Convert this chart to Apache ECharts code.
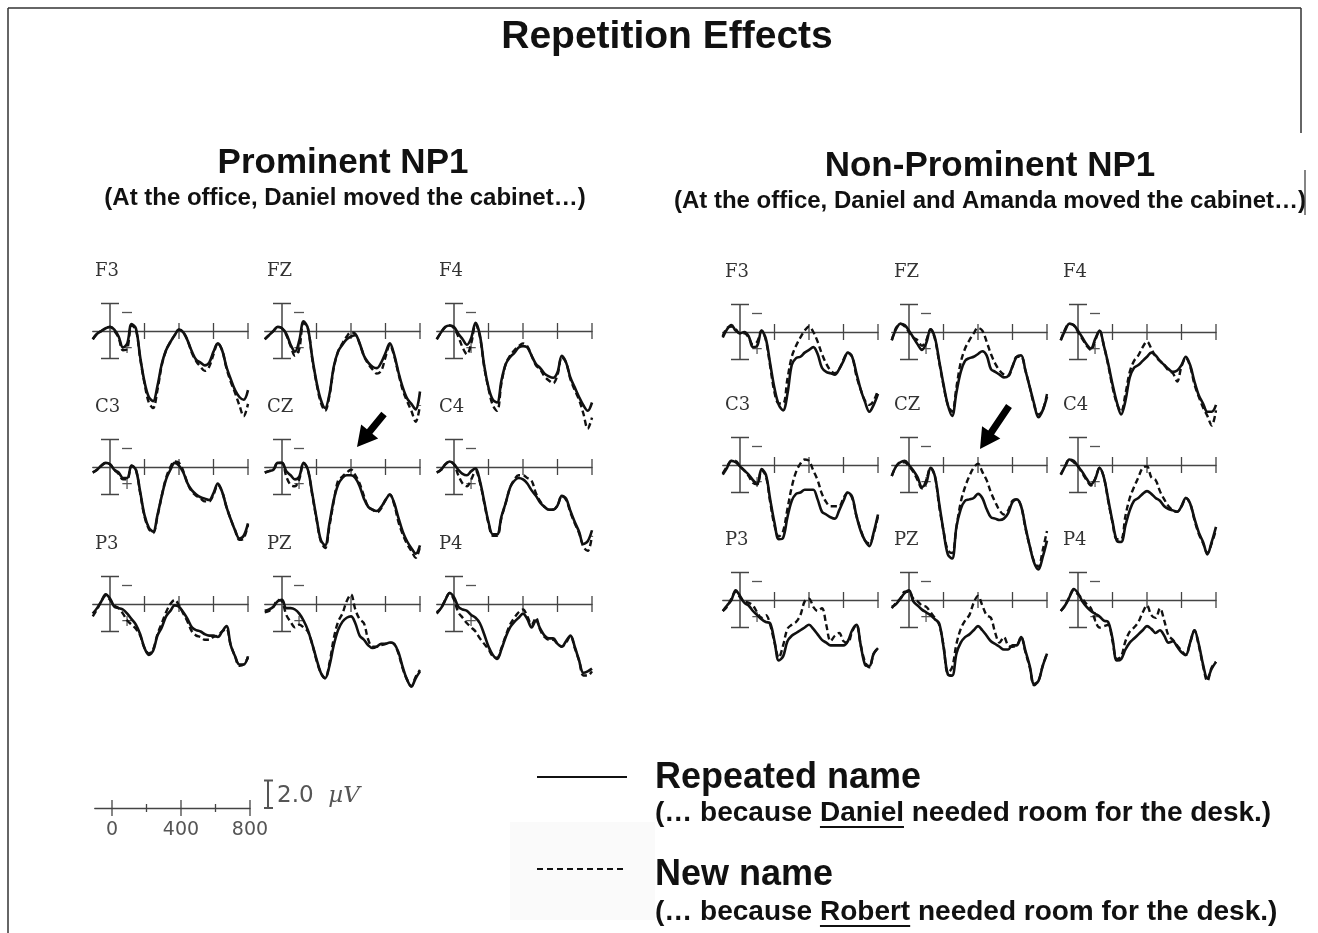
<!DOCTYPE html>
<html>
<head>
<meta charset="utf-8">
<script src="https://cdn.jsdelivr.net/npm/echarts@6/dist/echarts.min.js"></script>
<style>
html,body{margin:0;padding:0;background:#fff;}
#chart{width:1318px;height:933px;}
</style>
</head>
<body>
<div id="chart"></div>
<script>
// ---------- DATA ----------
const times = [-100,-75,-50,-25,0,25,50,75,100,125,150,175,200,225,250,275,300,325,350,375,400,425,450,475,500,525,550,575,600,625,650,675,700,725,750,775,800];
const electrodeRows = [['F3','FZ','F4'],['C3','CZ','C4'],['P3','PZ','P4']];
const timeTicks = [200,400,600,800];
const calBar = [-2, 2];             // µV, negative plotted up
const scaleTicks = [0,200,400,600,800];
const scaleLabels = [0,400,800];
const scaleBarLabel = '2.0';

// Prominent NP1 (µV)
const prom_F3_rep = [0.6,0.2,0,-0.2,-0.3,-0.1,0.4,1.2,0.9,-0.5,-0.2,1.9,3.7,4.8,5.1,4.0,2.4,1.4,0.8,0.3,-0.1,0.1,0.7,1.5,2.1,2.3,2.5,2.3,1.5,0.9,1.4,2.6,3.5,4.3,4.8,5.0,4.3];
const prom_F3_new = [0.6,0.2,0,-0.2,-0.3,0,0.5,1.4,1.3,-0.4,-0.1,2.0,3.8,5.2,5.6,4.3,2.5,1.4,0.8,0.3,-0.1,0.1,0.7,1.6,2.2,2.6,2.9,2.6,1.7,0.9,1.4,2.7,3.7,4.5,5.4,6.2,5.3];
const prom_FZ_rep = [0.6,0.3,0,-0.3,-0.2,0.2,1.0,1.5,0.7,-0.7,-0.2,1.9,3.7,5.0,5.6,4.6,2.6,1.5,1.0,0.6,0.4,0.3,0.9,1.8,2.3,2.6,2.7,2.3,1.6,0.9,1.7,3.0,4.1,4.9,5.3,5.7,4.4];
const prom_FZ_new = [0.6,0.3,0,-0.3,-0.2,0.3,1.1,1.8,1.3,-0.6,-0.2,2.0,3.8,5.2,5.8,4.7,2.7,1.5,0.9,0.4,0.1,0.2,0.9,1.8,2.4,2.8,3.1,2.9,1.9,1.0,1.8,3.1,4.3,5.1,5.8,6.6,5.4];
const prom_F4_rep = [0.6,0.1,-0.3,-0.4,-0.3,0.2,0.6,1.0,0.5,-0.6,0.3,2.5,4.1,5.0,5.2,3.6,2.4,1.9,1.6,1.2,1.1,1.2,1.8,2.4,2.7,3.1,3.3,3.4,3.0,1.8,2.3,3.4,4.1,4.8,5.4,5.8,5.2];
const prom_F4_new = [0.6,0.1,-0.3,-0.4,-0.2,0.4,1.2,1.7,0.9,-0.5,0.4,2.6,4.2,5.4,5.8,3.8,2.4,1.8,1.4,1.1,0.9,1.1,1.8,2.5,2.8,3.3,3.6,3.8,3.2,1.9,2.3,3.5,4.3,5.0,6.0,7.1,6.3];
const prom_C3_rep = [0.4,0.2,-0.1,-0.3,-0.2,0.2,0.4,0.8,0.8,-0.1,0.2,1.8,3.5,4.4,4.7,3.5,2.1,0.9,0.2,-0.3,-0.1,0.4,1.2,1.7,2.0,2.2,2.3,2.4,1.9,1.2,1.8,2.9,3.8,4.6,5.2,5.0,4.1];
const prom_C3_new = [0.4,0.2,-0.1,-0.3,-0.2,0.2,0.5,0.9,0.9,-0.1,0.2,1.9,3.6,4.5,4.8,3.6,2.1,0.8,0.0,-0.4,-0.3,0.3,1.2,1.8,2.1,2.3,2.5,2.5,2.0,1.3,1.8,2.9,3.8,4.6,5.3,5.2,4.2];
const prom_CZ_rep = [0.4,0.3,0.2,-0.3,-0.3,0.3,0.6,0.9,0.7,-0.3,0.2,1.9,3.7,5.3,5.7,4.1,2.4,1.3,0.8,0.6,0.6,0.8,1.4,2.3,2.9,3.1,3.2,2.9,2.4,2.0,2.6,3.7,4.7,5.4,5.9,6.3,5.7];
const prom_CZ_new = [0.4,0.3,0.2,-0.3,-0.3,0.7,1.3,1.4,0.9,-0.3,0.2,2.0,3.8,5.4,5.9,4.3,2.5,1.0,0.7,0.4,0.2,0.6,1.2,2.1,2.9,3.1,3.3,3.0,2.4,2.0,2.7,4.0,4.9,5.6,6.1,6.6,5.8];
const prom_C4_rep = [0.4,0.2,-0.2,-0.4,-0.2,0.2,0.5,0.6,0.3,0.1,1.0,2.5,4.0,4.9,4.9,3.6,2.6,1.5,1.0,0.8,0.9,1.2,1.7,2.1,2.6,2.9,3.1,3.1,2.8,2.1,2.3,3.2,4.0,4.7,5.6,5.4,4.6];
const prom_C4_new = [0.4,0.2,-0.2,-0.4,-0.2,0.6,1.2,1.4,0.9,0.3,1.1,2.6,4.1,5.0,5.0,3.7,2.6,1.5,0.9,0.6,0.6,0.8,1.0,1.9,2.5,2.9,3.1,3.1,2.8,2.1,2.4,3.3,4.1,4.8,5.8,6.1,5.0];
const prom_P3_rep = [0.7,0.3,-0.2,-0.7,-0.4,0.2,0.3,0.4,0.7,1.1,1.5,2.2,3.2,3.7,3.4,2.3,1.7,0.9,0.5,0.1,0.2,0.6,1.1,1.7,1.9,2.0,2.2,2.3,2.3,2.4,2.0,1.6,3.0,3.8,4.4,4.4,3.8];
const prom_P3_new = [0.9,0.4,-0.2,-0.6,-0.3,0.1,0.3,0.7,1.2,1.5,1.8,2.3,3.2,3.6,3.3,2.2,1.4,0.6,0.0,-0.3,0.1,0.7,1.3,2.0,2.3,2.4,2.6,2.6,2.4,2.3,2.0,1.8,3.0,3.8,4.5,4.4,3.9];
const prom_PZ_rep = [0.5,0.4,0.2,-0.2,-0.3,0.3,0.3,0.4,0.7,1.2,1.9,2.9,4.0,5.0,5.4,4.5,3.0,1.9,1.3,1.0,0.9,1.4,2.3,2.6,3.0,3.2,3.1,2.9,2.9,2.8,2.9,3.5,4.6,5.5,6.0,5.4,4.9];
const prom_PZ_new = [0.6,0.5,0.2,-0.3,-0.2,0.8,1.3,1.7,1.5,1.7,2.0,2.9,4.1,5.0,5.4,4.3,2.5,1.3,0.7,-0.2,-0.7,0.4,1.1,1.4,2.6,3.1,3.1,3.0,2.9,2.8,2.9,3.6,4.7,5.5,6.0,5.3,4.8];
const prom_P4_rep = [0.6,0.3,-0.3,-0.8,-0.5,0.2,0.4,0.5,0.8,1.0,1.4,2.2,3.1,3.7,4.0,3.3,2.4,1.7,1.3,1.0,0.7,1.1,1.7,1.2,1.8,2.3,2.5,2.5,2.9,3.1,2.7,2.3,3.1,4.1,5.0,4.9,4.7];
const prom_P4_new = [0.7,0.3,-0.3,-0.8,-0.3,0.6,1.0,1.4,1.7,2.0,2.5,2.9,3.3,3.8,3.9,3.2,2.3,1.5,1.0,0.6,0.4,0.9,1.5,1.0,1.9,2.4,2.6,2.6,2.9,3.1,2.8,2.3,3.2,4.1,5.2,5.2,4.9];

// Non-Prominent NP1 (µV)
const nonp_F3_rep = [0.4,-0.2,-0.5,-0.1,0.1,0,0.3,1.1,1.0,-0.1,0.5,2.3,4.1,5.3,5.7,4.5,2.4,1.9,1.8,1.5,1.3,1.1,1.6,2.6,2.9,3.0,3.1,2.7,2.1,1.5,1.8,3.0,4.2,5.1,5.8,5.3,4.5];
const nonp_F3_new = [0.3,-0.3,-0.4,-0.2,0.1,0.1,0.4,0.9,0.7,-0.1,0.6,2.5,4.4,5.2,5.2,3.4,1.8,1.0,0.4,-0.1,-0.4,0,0.7,1.6,2.3,2.8,3.0,2.7,2.0,1.5,1.8,3.2,4.2,5.0,5.3,5.0,4.2];
const nonp_FZ_rep = [0.6,-0.2,-0.6,-0.5,-0.1,0.4,0.9,1.3,0.8,-0.2,0.4,2.1,3.8,5.3,6.1,4.4,2.9,2.1,1.9,1.8,1.6,1.4,1.7,2.7,2.9,3.1,3.3,3.2,2.5,1.8,1.7,2.8,4.0,5.2,6.2,5.7,4.7];
const nonp_FZ_new = [0.6,-0.3,-0.6,-0.4,0,0.4,0.6,1.0,0.6,-0.2,0.5,2.2,3.9,5.3,5.8,4.0,2.2,1.2,0.6,0.1,-0.3,-0.1,0.7,1.6,2.3,2.8,3.1,3.2,2.5,1.8,1.8,2.8,4.0,5.3,6.0,5.7,4.5];
const nonp_F4_rep = [0.6,-0.1,-0.6,-0.5,-0.1,0.4,0.9,1.2,0.5,-0.1,1.0,2.3,3.8,5.1,6.0,5.0,3.3,2.6,2.4,2.1,1.8,1.5,1.7,2.1,2.4,2.7,2.9,2.8,2.4,1.8,2.4,3.6,4.6,5.2,5.8,5.8,5.3];
const nonp_F4_new = [0.6,-0.2,-0.6,-0.5,0,0.5,1.0,1.3,0.6,-0.1,1.0,2.4,4.0,5.2,5.8,4.5,2.9,2.1,1.7,1.1,0.7,1.2,1.8,2.1,2.4,2.8,3.0,3.6,2.5,1.9,2.5,3.8,4.7,5.5,6.1,6.8,5.7];
const nonp_C3_rep = [0.7,0.2,-0.3,-0.2,0.1,0.4,0.7,1.1,1.4,0.3,0.7,2.5,4.2,5.4,5.3,3.8,2.6,2.1,2.0,1.8,1.8,1.8,2.5,3.4,3.6,3.8,3.9,3.3,2.6,2.0,2.3,3.7,4.8,5.5,5.9,4.9,3.6];
const nonp_C3_new = [0.6,0.1,-0.3,-0.3,0.1,0.4,0.8,1.3,1.4,0.4,0.8,2.7,4.4,5.2,4.8,3.2,1.6,0.5,-0.1,-0.4,-0.3,0.4,1.1,2.1,2.7,3.0,3.0,3.0,2.4,2.0,2.4,3.7,4.7,5.5,5.7,5.0,3.7];
const nonp_CZ_rep = [0.8,0.1,-0.2,-0.3,0,0.4,0.9,1.6,1.3,0.2,0.8,2.8,4.8,6.5,6.8,4.5,3.2,2.6,2.5,2.4,2.1,2.4,3.2,3.8,3.9,4.0,3.9,3.5,2.7,2.5,3.0,4.5,5.9,7.1,7.6,6.7,5.5];
const nonp_CZ_new = [0.8,0.1,-0.2,-0.2,0.1,0.5,1.1,1.7,1.1,0.2,0.8,3.0,4.8,6.2,6.4,4.5,2.7,1.6,0.8,0.2,-0.1,0.5,1.1,2.0,2.7,3.3,3.6,3.3,2.6,2.5,3.0,4.6,5.9,7.0,7.4,6.2,4.8];
const nonp_C4_rep = [0.7,0.1,-0.4,-0.3,0.1,0.5,1.0,1.4,1.0,0.2,0.9,2.5,4.1,5.5,5.6,4.4,3.3,2.6,2.4,2.1,1.9,2.1,2.4,2.6,3.0,3.2,3.3,3.4,3.0,2.4,2.8,3.9,4.9,5.6,6.5,5.6,4.5];
const nonp_C4_new = [0.7,0.1,-0.4,-0.2,0.1,0.6,1.1,1.5,1.0,0.2,0.9,2.6,4.2,5.4,5.4,3.7,2.4,1.6,0.9,0.2,0.1,0.9,1.1,1.9,2.5,3.0,3.3,3.4,3.0,2.4,2.8,4.0,5.0,5.7,6.4,5.7,4.7];
const nonp_P3_rep = [0.8,0.4,0,-0.7,-0.3,0.2,0.4,0.8,1.1,1.4,1.6,1.7,3.0,4.4,4.1,3.0,2.6,2.4,2.2,2.0,1.8,2.1,2.5,2.9,3.1,3.3,3.3,3.3,3.3,3.0,2.2,1.8,3.3,4.7,4.8,3.9,3.5];
const nonp_P3_new = [0.8,0.5,-0.1,-0.6,-0.2,0.1,0.2,0.4,0.9,1.3,1.1,1.8,3.1,4.2,3.3,2.1,1.8,1.6,1.1,0.1,-0.1,0.5,0.8,0.6,1.8,3.0,2.6,2.4,3.0,3.1,2.3,1.8,3.3,4.5,4.9,3.9,3.5];
const nonp_PZ_rep = [0.5,0.3,-0.1,-0.5,-0.7,0.1,0.4,0.7,0.9,1.1,1.4,1.7,3.4,5.4,5.5,3.9,3.1,2.7,2.5,2.2,1.9,2.2,2.6,3.0,3.2,3.4,3.6,3.6,3.3,3.3,2.7,3.7,4.8,6.1,5.9,4.8,3.9];
const nonp_PZ_new = [0.6,0.2,-0.1,-0.6,-0.6,-0.1,0.1,0.4,0.5,0.9,1.3,1.8,3.3,5.3,4.9,3.2,2.1,1.5,1.1,0.2,-0.3,0.4,1.1,1.3,2.4,3.1,2.7,3.3,3.4,3.3,2.7,3.8,4.9,6.2,5.9,4.8,3.9];
const nonp_P4_rep = [0.8,0.4,-0.2,-0.8,-0.5,0.1,0.5,0.8,1.0,1.2,1.5,1.6,2.8,4.4,4.3,3.6,3.1,2.8,2.5,2.2,1.9,2.1,2.4,2.2,2.6,3.1,3.0,3.4,3.8,4.0,3.1,2.2,3.2,4.7,5.7,5.0,4.5];
const nonp_P4_new = [0.8,0.4,-0.2,-0.7,-0.4,-0.1,0.3,0.6,1.5,2.0,1.9,1.8,3.0,4.3,4.1,3.0,2.3,2.0,1.6,0.9,0.4,1.1,1.3,0.6,1.5,2.6,2.9,3.3,3.7,4.0,3.1,2.2,3.3,4.8,5.9,4.9,4.5];

const repeatedData = {
  prom: {F3:prom_F3_rep,FZ:prom_FZ_rep,F4:prom_F4_rep,C3:prom_C3_rep,CZ:prom_CZ_rep,C4:prom_C4_rep,P3:prom_P3_rep,PZ:prom_PZ_rep,P4:prom_P4_rep},
  nonp: {F3:nonp_F3_rep,FZ:nonp_FZ_rep,F4:nonp_F4_rep,C3:nonp_C3_rep,CZ:nonp_CZ_rep,C4:nonp_C4_rep,P3:nonp_P3_rep,PZ:nonp_PZ_rep,P4:nonp_P4_rep}
};
const newData = {
  prom: {F3:prom_F3_new,FZ:prom_FZ_new,F4:prom_F4_new,C3:prom_C3_new,CZ:prom_CZ_new,C4:prom_C4_new,P3:prom_P3_new,PZ:prom_PZ_new,P4:prom_P4_new},
  nonp: {F3:nonp_F3_new,FZ:nonp_FZ_new,F4:nonp_F4_new,C3:nonp_C3_new,CZ:nonp_CZ_new,C4:nonp_C4_new,P3:nonp_P3_new,PZ:nonp_PZ_new,P4:nonp_P4_new}
};

// ---------- LAYOUT ----------
const PX_PER_MS = 0.1725, PX_PER_UV = 13.75, Y_MIN = -3, Y_MAX = 8;
const groups = [
  {key:'prom', t0x:[110,282,454], axisY:[331,467,604]},
  {key:'nonp', t0x:[740,909,1078], axisY:[332,465,600]}
];
const SANS = "'Liberation Sans', Arial, Helvetica, sans-serif";
const AXIS_COLOR = '#444';

const grids = [], xAxes = [], yAxes = [], series = [], graphics = [];

function tickRender(half) {
  return function (params, api) {
    const p = api.coord([api.value(0), api.value(1)]);
    const h = typeof half === 'function' ? half(api.value(0)) : half;
    return {type:'line', shape:{x1:p[0], y1:p[1]-h, x2:p[0], y2:p[1]+h},
            style:{stroke:AXIS_COLOR, lineWidth:1.3}};
  };
}
function calRender(params, api) {
  const top = api.coord([api.value(0), api.value(1)]);
  const bot = api.coord([api.value(0), api.value(2)]);
  const x = top[0];
  const st = {stroke:AXIS_COLOR, lineWidth:1.5};
  return {type:'group', children:[
    {type:'line', shape:{x1:x, y1:top[1], x2:x, y2:bot[1]}, style:st},
    {type:'line', shape:{x1:x-9, y1:top[1], x2:x+9, y2:top[1]}, style:st},
    {type:'line', shape:{x1:x-9, y1:bot[1], x2:x+9, y2:bot[1]}, style:st},
    {type:'line', shape:{x1:x+12, y1:top[1]+9, x2:x+22, y2:top[1]+9}, style:{stroke:'#555', lineWidth:1.3}},
    {type:'text', x:x+17, y:bot[1]-9, style:{text:'+', fill:'#555', fontSize:15, fontFamily:"'DejaVu Sans', sans-serif", align:'center', verticalAlign:'middle'}}
  ]};
}

groups.forEach(g => {
  electrodeRows.forEach((row, r) => {
    row.forEach((el, c) => {
      const idx = grids.length;
      const t0x = g.t0x[c], ay = g.axisY[r];
      grids.push({left: t0x - 100*PX_PER_MS, top: ay + Y_MIN*PX_PER_UV,
                  width: 900*PX_PER_MS, height: (Y_MAX - Y_MIN)*PX_PER_UV, containLabel:false});
      xAxes.push({gridIndex: idx, type:'value', min:-100, max:800,
        axisLine:{show:true, onZero:true, lineStyle:{color:AXIS_COLOR, width:1.3}},
        axisTick:{show:false}, axisLabel:{show:false}, splitLine:{show:false}});
      yAxes.push({gridIndex: idx, type:'value', inverse:true, min:Y_MIN, max:Y_MAX,
        axisLine:{show:false}, axisTick:{show:false}, axisLabel:{show:false}, splitLine:{show:false}});
      series.push({type:'custom', coordinateSystem:'cartesian2d', xAxisIndex:idx, yAxisIndex:idx,
        data: timeTicks.map(t => [t, 0]), renderItem: tickRender(8), silent:true, z:1});
      series.push({type:'custom', coordinateSystem:'cartesian2d', xAxisIndex:idx, yAxisIndex:idx,
        data: [[0, calBar[0], calBar[1]]], renderItem: calRender, silent:true, z:1});
      series.push({type:'line', name:'New name', xAxisIndex:idx, yAxisIndex:idx,
        data: times.map((t, k) => [t, newData[g.key][el][k]]),
        symbol:'none', smooth:0.35, clip:false, silent:true, z:4,
        lineStyle:{color:'#111', width:2.4, type:[6,3.5]}});
      series.push({type:'line', name:'Repeated name', xAxisIndex:idx, yAxisIndex:idx,
        data: times.map((t, k) => [t, repeatedData[g.key][el][k]]),
        symbol:'none', smooth:0.35, clip:false, silent:true, z:5,
        lineStyle:{color:'#111', width:2.6}});
      graphics.push({type:'text', x: t0x - 15, y: ay - 60,
        style:{text: el, fill:'#333', fontSize:18, fontFamily:"'DejaVu Serif', 'Liberation Serif', serif", align:'left', verticalAlign:'middle'}});
    });
  });
});

// scale legend axis (bottom-left)
const sIdx = grids.length;
const SCALE_T0X = 112, SCALE_AXIS_Y = 808;
grids.push({left: SCALE_T0X - 100*PX_PER_MS, top: SCALE_AXIS_Y - 20, width: 900*PX_PER_MS, height: 20});
xAxes.push({gridIndex:sIdx, type:'value', min:-100, max:800,
  axisLine:{show:true, lineStyle:{color:AXIS_COLOR, width:1.3}}, axisTick:{show:false},
  axisLabel:{show:true, customValues: scaleLabels, margin:13, fontSize:19, color:'#555', fontFamily:"'DejaVu Sans', sans-serif"},
  splitLine:{show:false}});
yAxes.push({gridIndex:sIdx, type:'value', min:0, max:1, show:false});
series.push({type:'custom', coordinateSystem:'cartesian2d', xAxisIndex:sIdx, yAxisIndex:sIdx,
  data: scaleTicks.map(t => [t, 0]), renderItem: tickRender(t => (t % 400 === 0 ? 8 : 4)), silent:true});

// 2.0 µV calibration key
const calX = 268, calTop = SCALE_AXIS_Y - 2*PX_PER_UV;
graphics.push({type:'line', shape:{x1:calX, y1:calTop, x2:calX, y2:SCALE_AXIS_Y}, style:{stroke:'#555', lineWidth:2}});
graphics.push({type:'line', shape:{x1:calX-4, y1:calTop, x2:calX+5, y2:calTop}, style:{stroke:'#555', lineWidth:2}});
graphics.push({type:'line', shape:{x1:calX-4, y1:SCALE_AXIS_Y, x2:calX+5, y2:SCALE_AXIS_Y}, style:{stroke:'#555', lineWidth:2}});
graphics.push({type:'text', x:calX+9, y:796, style:{text:'{a|' + scaleBarLabel + '}{b|  µV}', align:'left', verticalAlign:'middle',
  rich:{a:{fontSize:23, fill:'#555', fontFamily:"'DejaVu Sans', sans-serif"},
        b:{fontSize:23, fill:'#555', fontStyle:'italic', fontFamily:"'DejaVu Serif', serif"}}}});

// titles
function addText(txt, x, y, size, align) {
  graphics.push({type:'text', x, y, style:{text:txt, fontSize:size, fontWeight:'bold', fontFamily:SANS, fill:'#111', align: align || 'center', verticalAlign:'middle'}});
}
addText('Repetition Effects', 667, 37, 39);
addText('Prominent NP1', 343, 163, 35);
addText('(At the office, Daniel moved the cabinet…)', 345, 198, 24);
addText('Non-Prominent NP1', 990, 166, 35);
addText('(At the office, Daniel and Amanda moved the cabinet…)', 990, 201, 24);

// legend
graphics.push({type:'rect', shape:{x:510, y:822, width:145, height:98}, style:{fill:'#fafafa'}, z:-1});
graphics.push({type:'line', shape:{x1:537, y1:777, x2:627, y2:777}, style:{stroke:'#111', lineWidth:2}});
graphics.push({type:'line', shape:{x1:537, y1:869, x2:627, y2:869}, style:{stroke:'#111', lineWidth:2, lineDash:[6,4]}});
addText('Repeated name', 655, 778, 36, 'left');
addText('New name', 655, 875, 36, 'left');
const SUB_SIZE = 28;
const mctx = document.createElement('canvas').getContext('2d');
mctx.font = 'bold ' + SUB_SIZE + 'px ' + SANS;
function subWithUnderline(prefix, word, suffix, y) {
  addText(prefix + word + suffix, 655, y, SUB_SIZE, 'left');
  const x1 = 655 + mctx.measureText(prefix).width;
  const x2 = x1 + mctx.measureText(word).width;
  graphics.push({type:'line', shape:{x1, y1:y+14, x2, y2:y+14}, style:{stroke:'#111', lineWidth:2}});
}
subWithUnderline('(… because ', 'Daniel', ' needed room for the desk.)', 813);
subWithUnderline('(… because ', 'Robert', ' needed room for the desk.)', 912);

// arrows
function arrow(tx, ty, hx, hy) {
  const shaftW = 7, headW = 22, headL = 20;
  const dx = hx - tx, dy = hy - ty, len = Math.hypot(dx, dy), ux = dx/len, uy = dy/len, px = -uy, py = ux;
  const bx = hx - ux*headL, by = hy - uy*headL;
  const pts = [[tx+px*shaftW/2, ty+py*shaftW/2],[bx+px*shaftW/2, by+py*shaftW/2],[bx+px*headW/2, by+py*headW/2],[hx,hy],
               [bx-px*headW/2, by-py*headW/2],[bx-px*shaftW/2, by-py*shaftW/2],[tx-px*shaftW/2, ty-py*shaftW/2]];
  graphics.push({type:'polygon', shape:{points:pts}, style:{fill:'#000'}, z:10});
}
arrow(384, 414, 357, 447);
arrow(1009, 406, 980, 449);

// frame
const frameStyle = {stroke:'#333', lineWidth:1.5};
graphics.push({type:'line', shape:{x1:8, y1:8, x2:1301, y2:8}, style:frameStyle});
graphics.push({type:'line', shape:{x1:8, y1:8, x2:8, y2:933}, style:frameStyle});
graphics.push({type:'line', shape:{x1:1301, y1:8, x2:1301, y2:133}, style:frameStyle});
graphics.push({type:'line', shape:{x1:1305, y1:170, x2:1305, y2:215}, style:{stroke:'#333', lineWidth:1.2}});

const chart = echarts.init(document.getElementById('chart'));
chart.setOption({
  animation:false,
  backgroundColor:'#fff',
  grid: grids, xAxis: xAxes, yAxis: yAxes, series: series,
  graphic: {elements: graphics}
});
</script>
</body>
</html>
